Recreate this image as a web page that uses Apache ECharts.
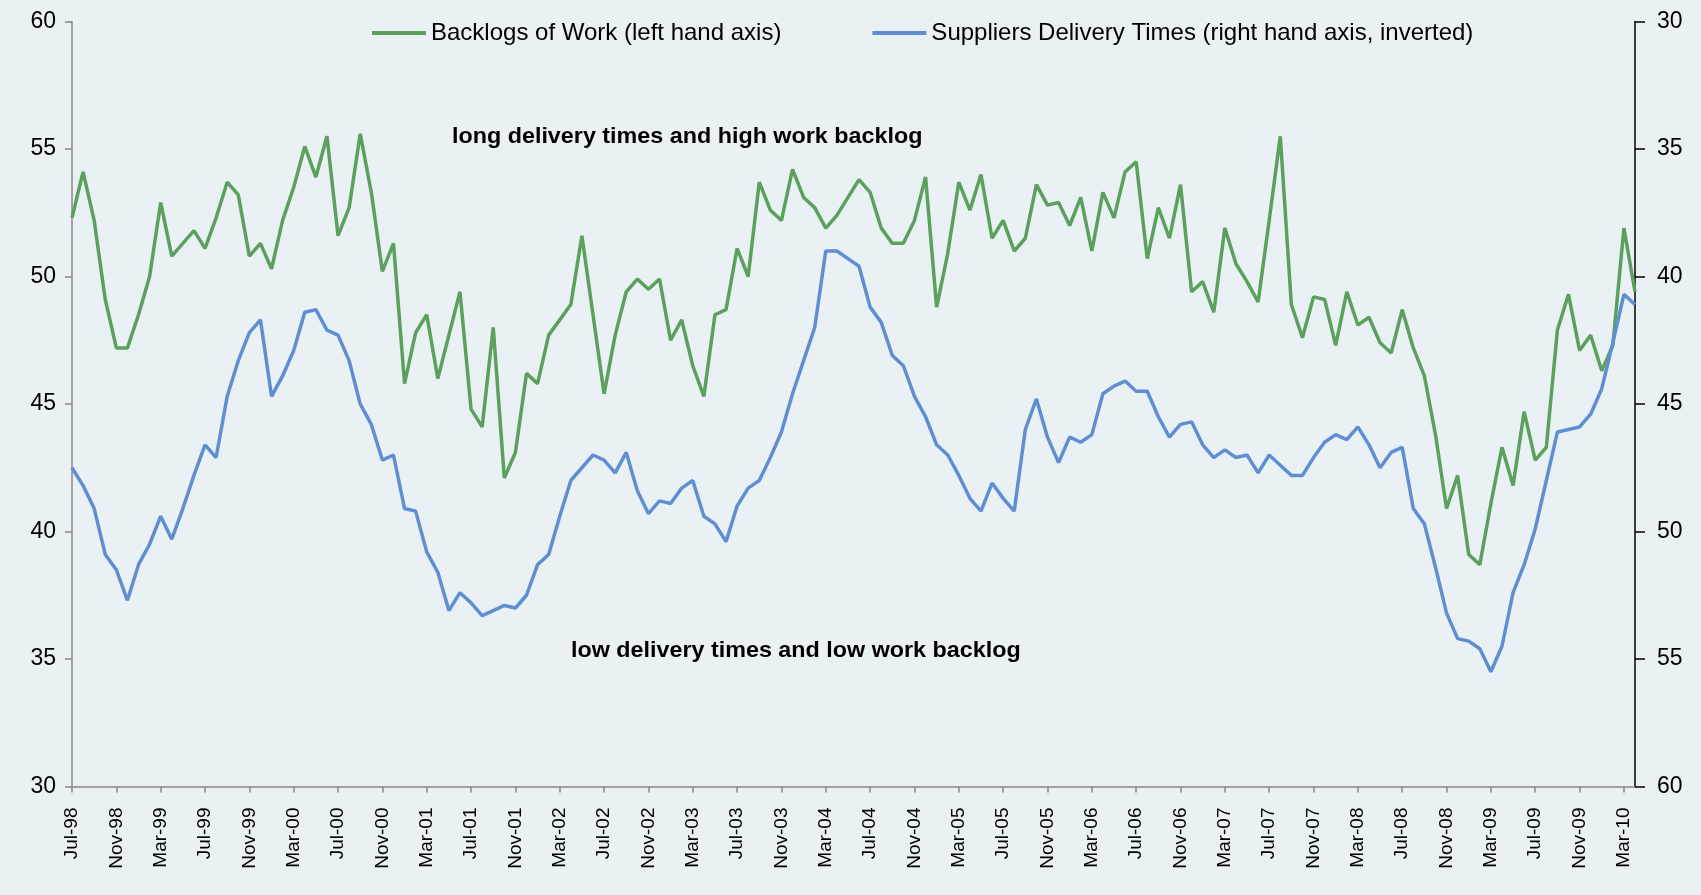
<!DOCTYPE html>
<html>
<head>
<meta charset="utf-8">
<script src="https://cdn.jsdelivr.net/npm/echarts@6/dist/echarts.min.js"></script>
<style>
  html, body { margin: 0; padding: 0; background: #EAF1F5; }
  #chart { width: 1701px; height: 895px; }
</style>
</head>
<body>
<div id="chart"></div>
<script>
// Monthly observations, Jul-98 .. Apr-10
const months = [
  'Jul-98','Aug-98','Sep-98','Oct-98','Nov-98','Dec-98',
  'Jan-99','Feb-99','Mar-99','Apr-99','May-99','Jun-99','Jul-99','Aug-99','Sep-99','Oct-99','Nov-99','Dec-99',
  'Jan-00','Feb-00','Mar-00','Apr-00','May-00','Jun-00','Jul-00','Aug-00','Sep-00','Oct-00','Nov-00','Dec-00',
  'Jan-01','Feb-01','Mar-01','Apr-01','May-01','Jun-01','Jul-01','Aug-01','Sep-01','Oct-01','Nov-01','Dec-01',
  'Jan-02','Feb-02','Mar-02','Apr-02','May-02','Jun-02','Jul-02','Aug-02','Sep-02','Oct-02','Nov-02','Dec-02',
  'Jan-03','Feb-03','Mar-03','Apr-03','May-03','Jun-03','Jul-03','Aug-03','Sep-03','Oct-03','Nov-03','Dec-03',
  'Jan-04','Feb-04','Mar-04','Apr-04','May-04','Jun-04','Jul-04','Aug-04','Sep-04','Oct-04','Nov-04','Dec-04',
  'Jan-05','Feb-05','Mar-05','Apr-05','May-05','Jun-05','Jul-05','Aug-05','Sep-05','Oct-05','Nov-05','Dec-05',
  'Jan-06','Feb-06','Mar-06','Apr-06','May-06','Jun-06','Jul-06','Aug-06','Sep-06','Oct-06','Nov-06','Dec-06',
  'Jan-07','Feb-07','Mar-07','Apr-07','May-07','Jun-07','Jul-07','Aug-07','Sep-07','Oct-07','Nov-07','Dec-07',
  'Jan-08','Feb-08','Mar-08','Apr-08','May-08','Jun-08','Jul-08','Aug-08','Sep-08','Oct-08','Nov-08','Dec-08',
  'Jan-09','Feb-09','Mar-09','Apr-09','May-09','Jun-09','Jul-09','Aug-09','Sep-09','Oct-09','Nov-09','Dec-09',
  'Jan-10','Feb-10','Mar-10','Apr-10'
];

// Backlogs of Work index (left axis)
const backlogs = [
  52.3, 54.1, 52.2, 49.1, 47.2, 47.2,
  48.5, 50.0, 52.9, 50.8, 51.3, 51.8, 51.1, 52.3, 53.7, 53.2, 50.8, 51.3,
  50.3, 52.2, 53.5, 55.1, 53.9, 55.5, 51.6, 52.7, 55.6, 53.3, 50.2, 51.3,
  45.8, 47.8, 48.5, 46.0, 47.7, 49.4, 44.8, 44.1, 48.0, 42.1, 43.1, 46.2,
  45.8, 47.7, 48.3, 48.9, 51.6, 48.5, 45.4, 47.7, 49.4, 49.9, 49.5, 49.9,
  47.5, 48.3, 46.5, 45.3, 48.5, 48.7, 51.1, 50.0, 53.7, 52.6, 52.2, 54.2,
  53.1, 52.7, 51.9, 52.4, 53.1, 53.8, 53.3, 51.9, 51.3, 51.3, 52.2, 53.9,
  48.8, 50.9, 53.7, 52.6, 54.0, 51.5, 52.2, 51.0, 51.5, 53.6, 52.8, 52.9,
  52.0, 53.1, 51.0, 53.3, 52.3, 54.1, 54.5, 50.7, 52.7, 51.5, 53.6, 49.4,
  49.8, 48.6, 51.9, 50.5, 49.8, 49.0, 52.2, 55.5, 48.9, 47.6, 49.2, 49.1,
  47.3, 49.4, 48.1, 48.4, 47.4, 47.0, 48.7, 47.2, 46.1, 43.8, 40.9, 42.2,
  39.1, 38.7, 41.1, 43.3, 41.8, 44.7, 42.8, 43.3, 47.9, 49.3, 47.1, 47.7,
  46.3, 47.3, 51.9, 49.4
];

// Suppliers Delivery Times index (right axis, inverted)
const deliveryTimes = [
  47.5, 48.2, 49.1, 50.9, 51.5, 52.7,
  51.3, 50.5, 49.4, 50.3, 49.1, 47.8, 46.6, 47.1, 44.7, 43.3, 42.2, 41.7,
  44.7, 43.9, 42.9, 41.4, 41.3, 42.1, 42.3, 43.3, 45.0, 45.8, 47.2, 47.0,
  49.1, 49.2, 50.8, 51.6, 53.1, 52.4, 52.8, 53.3, 53.1, 52.9, 53.0, 52.5,
  51.3, 50.9, 49.4, 48.0, 47.5, 47.0, 47.2, 47.7, 46.9, 48.4, 49.3, 48.8,
  48.9, 48.3, 48.0, 49.4, 49.7, 50.4, 49.0, 48.3, 48.0, 47.1, 46.1, 44.6,
  43.3, 42.0, 39.0, 39.0, 39.3, 39.6, 41.2, 41.8, 43.1, 43.5, 44.7, 45.5,
  46.6, 47.0, 47.8, 48.7, 49.2, 48.1, 48.7, 49.2, 46.0, 44.8, 46.3, 47.3,
  46.3, 46.5, 46.2, 44.6, 44.3, 44.1, 44.5, 44.5, 45.5, 46.3, 45.8, 45.7,
  46.6, 47.1, 46.8, 47.1, 47.0, 47.7, 47.0, 47.4, 47.8, 47.8, 47.1, 46.5,
  46.2, 46.4, 45.9, 46.6, 47.5, 46.9, 46.7, 49.1, 49.7, 51.4, 53.2, 54.2,
  54.3, 54.6, 55.5, 54.5, 52.4, 51.3, 49.9, 48.0, 46.1, 46.0, 45.9, 45.4,
  44.4, 42.6, 40.7, 41.1
];

const leftTicks = { min: 30, max: 60, step: 5 };
const rightTicks = { min: 30, max: 60, step: 5 };

const GREEN = '#5CA05E';
const BLUE = '#5F8FD2';
const FONT = "'Liberation Sans', Arial, sans-serif";
const BAR_ICON = 'path://M0,0 L54,0 L54,4 L0,4 Z';

const chart = echarts.init(document.getElementById('chart'), null, { renderer: 'canvas' });

chart.setOption({
  backgroundColor: '#EAF1F5',
  animation: false,
  textStyle: { fontFamily: FONT },
  grid: { left: 72, right: 66, top: 21.5, bottom: 108.5, containLabel: false },
  legend: {
    left: 367,
    top: 16,
    itemWidth: 54,
    itemHeight: 14,
    itemGap: 91,
    textStyle: { fontFamily: FONT, fontSize: 24, color: '#000' },
    data: [
      { name: 'Backlogs of Work (left hand axis)', icon: BAR_ICON },
      { name: 'Suppliers Delivery Times (right hand axis, inverted)', icon: BAR_ICON }
    ],
    itemStyle: { borderWidth: 0 }
  },
  xAxis: {
    type: 'category',
    data: months,
    boundaryGap: false,
    axisLine: { show: true, lineStyle: { color: '#888', width: 1.5 } },
    axisTick: { show: true, interval: 3, length: 6, lineStyle: { color: '#888', width: 1.5 } },
    axisLabel: {
      interval: 3,
      rotate: 90,
      margin: 21,
      fontFamily: FONT,
      fontSize: 19,
      color: '#000'
    },
    splitLine: { show: false }
  },
  yAxis: [
    {
      type: 'value',
      position: 'left',
      min: leftTicks.min,
      max: leftTicks.max,
      interval: leftTicks.step,
      axisLine: { show: true, lineStyle: { color: '#888', width: 1.5 } },
      axisTick: { show: true, length: 7, lineStyle: { color: '#888', width: 1.5 } },
      axisLabel: { margin: 16, fontFamily: FONT, fontSize: 23, color: '#000' },
      splitLine: { show: false }
    },
    {
      type: 'value',
      position: 'right',
      inverse: true,
      min: rightTicks.min,
      max: rightTicks.max,
      interval: rightTicks.step,
      axisLine: { show: true, lineStyle: { color: '#000', width: 1.5 } },
      axisTick: { show: true, length: 10, lineStyle: { color: '#000', width: 1.5 } },
      axisLabel: { margin: 22, fontFamily: FONT, fontSize: 23, color: '#000' },
      splitLine: { show: false }
    }
  ],
  series: [
    {
      name: 'Backlogs of Work (left hand axis)',
      type: 'line',
      yAxisIndex: 0,
      data: backlogs,
      symbol: 'none',
      color: GREEN,
      lineStyle: { color: GREEN, width: 3.5 },
      z: 2
    },
    {
      name: 'Suppliers Delivery Times (right hand axis, inverted)',
      type: 'line',
      yAxisIndex: 1,
      data: deliveryTimes,
      symbol: 'none',
      color: BLUE,
      lineStyle: { color: BLUE, width: 3.5 },
      z: 3
    }
  ],
  graphic: [
    {
      type: 'text',
      x: 452,
      y: 137,
      scaleX: 1.06,
      style: {
        text: 'long delivery times and high work backlog',
        font: "bold 22px 'Liberation Sans', Arial, sans-serif",
        fill: '#000',
        verticalAlign: 'middle'
      }
    },
    {
      type: 'text',
      x: 571,
      y: 651,
      scaleX: 1.06,
      style: {
        text: 'low delivery times and low work backlog',
        font: "bold 22px 'Liberation Sans', Arial, sans-serif",
        fill: '#000',
        verticalAlign: 'middle'
      }
    }
  ]
});
</script>
</body>
</html>
